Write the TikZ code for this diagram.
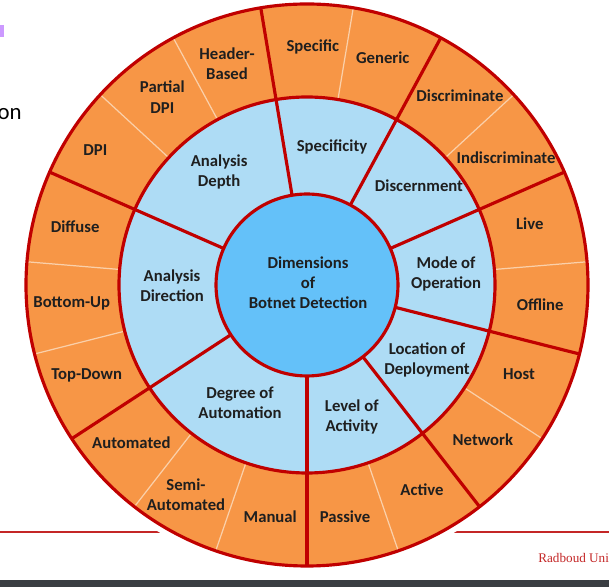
\documentclass[tikz,border=0pt]{standalone}
\usepackage{fontspec}
\setmainfont{Carlito}
\newfontfamily\footfont{Liberation Serif}
\definecolor{wheelred}{RGB}{192,0,0}
\definecolor{ringorange}{RGB}{247,150,70}
\definecolor{ringblue}{RGB}{174,220,245}
\definecolor{hubblue}{RGB}{100,193,249}
\definecolor{splitpeach}{RGB}{250,208,170}
\definecolor{barcolor}{RGB}{58,62,66}
\definecolor{markpurple}{RGB}{204,153,255}
\definecolor{footred}{RGB}{196,38,38}
\tikzset{
  lab/.style={font=\bfseries\fontsize{9.5}{11.5}\selectfont, text=black!88, align=center, inner sep=0pt},
  border/.style={draw=wheelred, line width=1.8pt},
}
\begin{document}
\begin{tikzpicture}[x=0.02cm, y=0.02cm]
  \useasboundingbox[fill=white] (-307,-302) rectangle (302,285);
  % slide leftovers
  \fill[markpurple] (-307,248) rectangle (-303,260);
  \node[anchor=base east, font=\fontsize{13}{15}\selectfont, inner sep=0pt] (title) at (-285,165) {on};
  \draw[footred, line width=0.6pt] (-307,-247) -- (302,-247);
  \fill[white] (0,0) circle (288);

  % rings
  \fill[ringorange] (0,0) circle (281);
  \fill[ringblue] (0,0) circle (188);

  % thin splits in the outer ring
  \foreach \k in {1,3,5,7,9,11,12,14,15,17,18}
    \draw[splitpeach, line width=0.7pt] (-90+\k*360/19:188) -- (-90+\k*360/19:281);

  % dimension borders
  \foreach \k in {0,2,4,6,8,10,13,16}
    \draw[border] (-90+\k*360/19:91) -- (-90+\k*360/19:281);
  \draw[border] (0,0) circle (281);
  \draw[border] (0,0) circle (188);

  % hub
  \node[circle, border, fill=hubblue, minimum size=3.64cm, lab] (hub) at (0,0) {};
  \node[lab] (hubtext) at (1,2) {Dimensions\\of\\Botnet Detection};

  % dimensions
  \foreach \a/\r/\lab [count=\i] in {-71.2/139/{Level of\\Activity}, -32/141.5/{Location of\\Deployment},
      4.7/139.5/{Mode of\\Operation}, 41.5/149.5/Discernment, 79.7/140/Specificity,
      127.9/143/{Analysis\\Depth}, 180.4/135/{Analysis\\Direction}, 240.4/135.7/{Degree of\\Automation}}
    \node[lab] (dim\i) at (\a:\r) {\lab};

  % values
  \foreach \a/\r/\lab [count=\i] in {-80.7/235/Passive, -60.7/235/Active, -41.4/234.5/Network,
      -22.8/230/Host, -4.9/234/Offline, 15.3/231/Live, 32.5/236/Indiscriminate,
      51/243/Discriminate, 71.6/240/Generic, 88.6/238/Specific, 109.9/235/{Header-\\Based},
      127.6/237/{Partial\\DPI}, 147.5/251/DPI, 166/239/Diffuse, 184.4/236/Bottom-Up,
      202.2/238/Top-Down, 221.9/236/Automated, 240/242/{Semi-\\Automated}, 261/235/Manual}
    \node[lab] (val\i) at (\a:\r) {\lab};

  % footer
  \node[anchor=base west, font=\footfont\fontsize{7.5}{9}\selectfont, text=footred, inner sep=0pt] (uni) at (231,-278) {Radboud Uni};
  \fill[barcolor] (-307,-295) rectangle (302,-302);
\end{tikzpicture}
\end{document}
